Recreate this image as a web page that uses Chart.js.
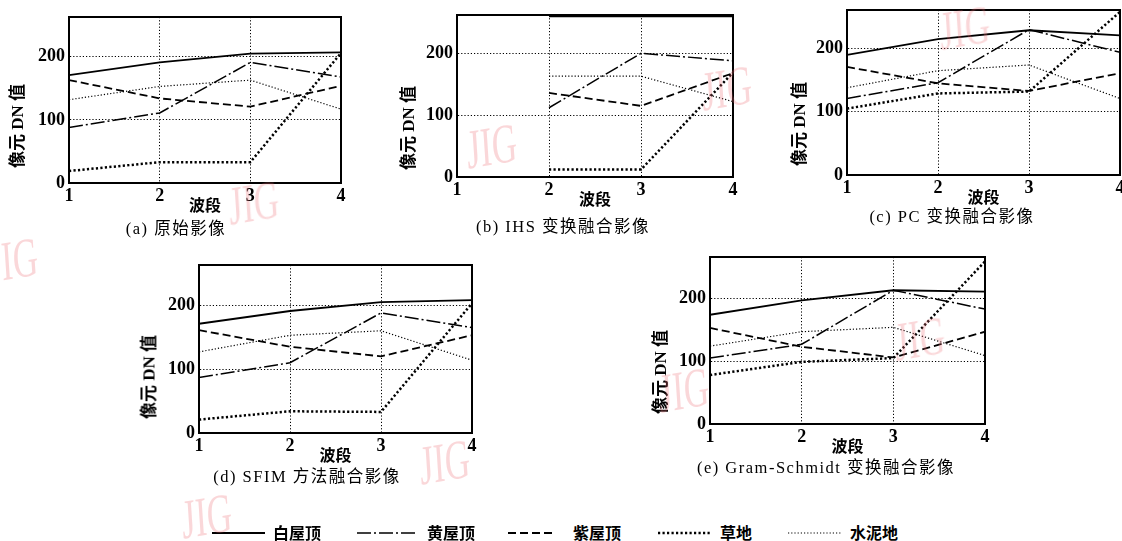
<!DOCTYPE html>
<html>
<head>
<meta charset="utf-8">
<script src="https://cdn.jsdelivr.net/npm/chart.js@4.4.0/dist/chart.umd.min.js"></script>
<style>
body { margin: 0; width: 1122px; height: 541px; overflow: hidden; background: #fff; position: relative;
  font-family: "Liberation Serif", "Noto Sans CJK SC", serif; color: #000; }
canvas { position: absolute; }
.cap { position: absolute; transform: translate(-50%, -50%); white-space: nowrap; font-size: 16.5px; letter-spacing: 1.5px; }
.ytitle { position: absolute; transform: translate(-50%, -50%) rotate(-90deg); white-space: nowrap; font-size: 17px; font-weight: bold; }
.mark { position: absolute; font-size: 56px; line-height: 1; color: rgba(238, 110, 120, 0.28); transform: scaleX(0.62) rotate(-6deg); transform-origin: left top; pointer-events: none; }
.leg { position: absolute; font-size: 16px; font-weight: bold; transform: translateY(-50%); white-space: nowrap; }
#legend { position: absolute; left: 0; top: 0; }
</style>
</head>
<body>
<svg id="legend" width="1122" height="541"></svg>
<script>
const bands = [1, 2, 3, 4];
const seriesNames = ['白屋顶', '黄屋顶', '紫屋顶', '草地', '水泥地'];
const yTicks = [0, 100, 200];
const captions = ['(a) 原始影像', '(b) IHS 变换融合影像', '(c) PC 变换融合影像', '(d) SFIM 方法融合影像', '(e) Gram-Schmidt 变换融合影像'];
const yTitle = '像元 DN 值';
const xTitle = '波段';

// one row per panel a..e
const baiWuding = [
	[171, 191, 205, 207],
	[null, 260, 260, 260],
	[190, 215, 229, 221],
	[171, 191, 205, 208],
	[174, 197, 213, 211]
];
const huangWuding = [
	[88, 111, 191, 168],
	[null, 112, 200, 188],
	[121, 146, 230, 194],
	[87, 110, 188, 165],
	[105, 127, 213, 183]
];
const ziWuding = [
	[163, 134, 121, 154],
	[null, 136, 115, 168],
	[171, 145, 133, 161],
	[161, 135, 120, 153],
	[153, 123, 106, 147]
];
const caoDi = [
	[19, 33, 33, 206],
	[null, 12, 12, 169],
	[105, 129, 132, 258],
	[21, 34, 33, 203],
	[78, 99, 105, 259]
];
const shuiNiDi = [
	[132, 153, 163, 117],
	[null, 163, 163, 122],
	[138, 165, 174, 121],
	[127, 153, 160, 114],
	[124, 147, 154, 109]
];
const yMax = [263, 262, 261, 263, 266];

const allSeries = [baiWuding, huangWuding, ziWuding, caoDi, shuiNiDi];
const lineStyles = [
	{ dash: [], width: 1.8 },
	{ dash: [14, 3, 2, 3], width: 1.5 },
	{ dash: [8, 4], width: 1.8 },
	{ dash: [2.2, 2.3], width: 2.5 },
	{ dash: [1.2, 2], width: 1.2 }
];

// plot rectangles and text anchors
const panels = [
	{ l: 69, t: 17, r: 341, b: 183, cap: [176, 227], yt: [15, 126] },
	{ l: 457, t: 15, r: 733, b: 177, cap: [563, 225], yt: [406, 128] },
	{ l: 847, t: 10, r: 1120, b: 175, cap: [952, 215], yt: [797, 124] },
	{ l: 199, t: 265, r: 472, b: 433, cap: [307, 475], yt: [147, 377] },
	{ l: 710, t: 257, r: 985, b: 424, cap: [826, 466], yt: [658, 372] }
];
const AXW = 50, AXH = 32, PT = 12, PR = 14, PB = 4;

const framePlugin = {
	id: 'frame',
	afterDatasetsDraw(chart) {
		const a = chart.chartArea, c = chart.ctx;
		c.save();
		c.strokeStyle = '#000';
		c.lineWidth = 2;
		c.setLineDash([]);
		c.strokeRect(a.left, a.top, a.right - a.left, a.bottom - a.top);
		c.restore();
	}
};

const tickFont = { family: 'Liberation Serif', size: 18, weight: 'bold' };

function addDiv(cls, text, x, y) {
	let d = document.createElement('div');
	d.className = cls;
	d.textContent = text;
	d.style.left = x + 'px';
	d.style.top = y + 'px';
	document.body.appendChild(d);
	return d;
}

function createPanel(i) {
	const p = panels[i];
	const cv = document.createElement('canvas');
	const w = (p.r - p.l) + AXW + PR;
	const h = (p.b - p.t) + PT + AXH + PB;
	cv.width = w; cv.height = h;
	cv.style.left = (p.l - AXW) + 'px';
	cv.style.top = (p.t - PT) + 'px';
	cv.style.width = w + 'px'; cv.style.height = h + 'px';
	document.body.appendChild(cv);

	const datasets = allSeries.map((s, k) => ({
		label: seriesNames[k],
		data: bands.map((b, j) => ({ x: b, y: s[i][j] })),
		borderColor: '#000',
		borderWidth: lineStyles[k].width,
		borderDash: lineStyles[k].dash,
		pointRadius: 0,
		fill: false,
		lineTension: 0
	}));

	new Chart(cv.getContext('2d'), {
		type: 'line',
		data: { datasets: datasets },
		options: {
			responsive: false,
			animation: false,
			devicePixelRatio: 1,
			layout: { padding: { left: 0, top: PT, right: PR, bottom: PB } },
			plugins: { legend: { display: false }, tooltip: { enabled: false } },
			scales: {
				x: {
					type: 'linear', min: 1, max: 4,
					ticks: { stepSize: 1, padding: 3, color: '#000', font: tickFont },
					grid: { color: '#000', lineWidth: 1, drawTicks: false },
					border: { color: '#000', width: 2, dash: [1.2, 2] },
					title: { display: true, text: xTitle, color: '#000', padding: 0,
						font: { family: 'Noto Sans CJK SC', size: 16, weight: 'bold' } },
					afterFit(s) { s.height = AXH; s.paddingLeft = 0; s.paddingRight = 0; }
				},
				y: {
					type: 'linear', min: 0, max: yMax[i],
					afterBuildTicks(s) { s.ticks = yTicks.map(v => ({ value: v })); },
					ticks: { padding: 4, color: '#000', font: tickFont },
					grid: { color: '#000', lineWidth: 1, drawTicks: false },
					border: { color: '#000', width: 2, dash: [1.2, 2] },
					afterFit(s) { s.width = AXW; s.paddingTop = 0; s.paddingBottom = 0; }
				}
			}
		},
		plugins: [framePlugin]
	});

	addDiv('cap', captions[i], p.cap[0], p.cap[1]);
	addDiv('ytitle', yTitle, p.yt[0], p.yt[1]);
}

panels.forEach((p, i) => createPanel(i));

// legend row
const legendPos = [
	{ x1: 212, x2: 265, tx: 273 },
	{ x1: 357, x2: 417, tx: 427 },
	{ x1: 508, x2: 553, tx: 573 },
	{ x1: 658, x2: 712, tx: 720 },
	{ x1: 788, x2: 842, tx: 850 }
];
const svg = document.getElementById('legend');
legendPos.forEach((lp, k) => {
	let ln = document.createElementNS('http://www.w3.org/2000/svg', 'line');
	ln.setAttribute('x1', lp.x1); ln.setAttribute('x2', lp.x2);
	ln.setAttribute('y1', 533); ln.setAttribute('y2', 533);
	ln.setAttribute('stroke', '#000');
	ln.setAttribute('stroke-width', lineStyles[k].width);
	if (lineStyles[k].dash.length) ln.setAttribute('stroke-dasharray', lineStyles[k].dash.join(' '));
	svg.appendChild(ln);
	addDiv('leg', seriesNames[k], lp.tx, 532);
});

// JIG watermarks
[[227, 178], [465, 122], [700, 64], [938, 3], [-14, 236], [418, 438], [180, 492], [657, 366], [893, 314]]
	.forEach(m => addDiv('mark', 'JIG', m[0], m[1]));
</script>
</body>
</html>
